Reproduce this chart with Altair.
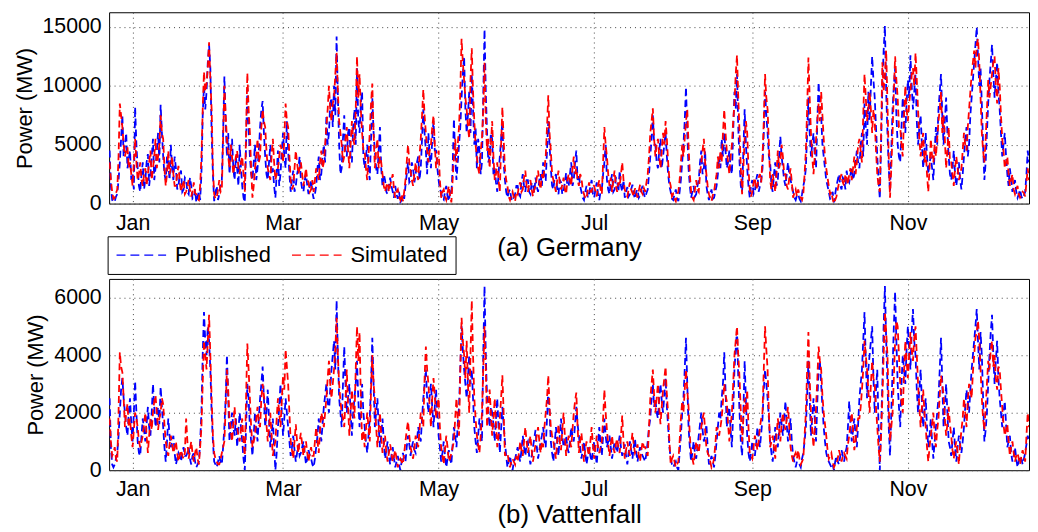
import altair as alt
import pandas as pd

START_DAY = -9
MONTH_DAYS = [0, 59, 120, 181, 243, 304]
MONTH_LABELS = ["Jan", "Mar", "May", "Jul", "Sep", "Nov"]
SERIES = ["Published", "Simulated"]
COLORS = ["#0000ff", "#ff0000"]

# Germany, GW: readings at the start of each day (day -9 .. 351)
GER_PUB = [
    4.5, 0.3, 0.2, 0.8, 3.5, 7.5, 5.0, 3.0, 4.5, 2.5,
    8.2, 3.0, 1.0, 3.5, 2.0, 4.2, 2.5, 5.5, 3.0, 6.0,
    8.4, 4.0, 2.0, 3.5, 5.0, 2.0, 3.0, 1.5, 2.8, 1.2,
    2.0, 0.8, 1.5, 0.5, 0.1, 1.0, 2.5, 10.0, 9.5, 13.5,
    6.0, 0.2, 1.5, 0.8, 2.0, 10.8, 4.0, 2.5, 5.5, 2.0,
    3.0, 5.0, 1.5, 0.1, 9.8, 4.0, 2.0, 5.0, 3.0, 6.5,
    8.7, 4.0, 2.0, 5.0, 3.0, 0.5, 4.5, 2.5, 6.0, 3.0,
    4.5, 1.0, 2.8, 1.5, 3.0, 2.0, 1.0, 2.5, 0.8, 2.0,
    0.4, 1.5, 4.0, 2.5, 5.0, 7.5, 6.0, 9.0, 10.0, 14.2,
    5.0, 3.0, 7.5, 4.0, 6.5, 3.5, 8.0, 11.5, 6.0, 9.5,
    3.0, 5.0, 2.0, 9.0, 4.5, 2.5, 6.5, 1.5, 2.0, 0.8,
    2.2, 1.0, 1.5, 0.4, 0.1, 0.8, 1.5, 3.5, 2.0, 3.0,
    2.5, 4.0, 3.0, 8.0, 4.5, 6.0, 3.0, 7.0, 4.5, 2.0,
    1.0, 0.3, 1.5, 0.2, 0.8, 7.2, 2.0, 5.0, 9.0, 12.5,
    6.0, 9.5, 11.0, 5.0, 3.0, 4.5, 3.5, 14.8, 6.0, 4.0,
    5.5, 3.0, 1.0, 4.0, 7.0, 2.0, 0.5, 1.2, 0.2, 0.8,
    1.5, 0.6, 2.5, 1.0, 2.0, 0.8, 1.6, 2.2, 1.0, 2.5,
    3.5, 2.0, 7.0, 3.0, 1.2, 2.5, 0.8, 1.8, 1.0, 2.6,
    1.5, 3.5, 2.0, 4.5, 2.5, 1.0, 0.3, 1.5, 0.8, 2.0,
    0.5, 1.8, 0.3, 1.2, 3.5, 2.0, 0.8, 2.5, 1.2, 2.0,
    2.8, 1.0, 0.5, 1.4, 0.8, 1.6, 0.4, 1.2, 0.7, 1.5,
    0.5, 1.2, 4.0, 7.5, 5.0, 3.0, 5.5, 4.0, 6.0, 2.5,
    1.0, 0.3, 1.2, 0.2, 2.0, 5.0, 9.9, 3.0, 0.5, 1.5,
    0.8, 2.0, 4.5, 3.0, 1.5, 0.3, 1.2, 0.5, 1.5, 4.0,
    5.5, 6.0, 3.0, 4.5, 2.5, 9.5, 11.0, 3.5, 1.0, 8.0,
    3.0, 0.5, 2.0, 1.0, 2.5, 1.5, 3.0, 9.5, 6.0, 3.5,
    1.0, 3.5, 2.0, 5.7, 3.0, 1.5, 3.5, 2.0, 1.0, 0.3,
    0.8, 0.2, 1.5, 3.0, 9.0, 4.0, 6.0, 3.0, 10.3, 7.5,
    4.0, 2.0, 1.0, 0.5, 0.1, 1.5, 2.5, 1.2, 2.0, 2.8,
    1.8, 3.0, 2.5, 4.5, 3.0, 6.0, 8.5, 5.0, 7.0, 12.5,
    9.0, 4.0, 0.4, 10.0, 15.1, 6.0, 1.0, 8.0, 11.5, 5.0,
    3.5, 9.0, 6.0, 10.5, 12.6, 8.0, 11.0, 5.0, 7.5, 3.0,
    6.0, 2.5, 4.0, 2.0, 6.5, 8.0, 11.0, 5.0, 9.0, 4.0,
    2.0, 4.5, 1.5, 3.5, 1.2, 4.0, 6.5, 5.0, 9.0, 12.0,
    15.0, 10.0, 8.5, 2.0, 6.0, 10.5, 13.5, 9.0, 12.0, 8.0,
    4.0, 6.0, 2.5, 3.0, 1.0, 2.0, 0.5, 1.2, 0.4, 1.0, 4.5,
]
# Germany, GW: readings at mid-day (day -8.5 .. 351.5)
GER_PUB_MID = [
    1.5, 0.1, 0.6, 2.0, 5.5, 4.0, 6.0, 3.8, 2.0, 1.2,
    5.0, 1.5, 2.5, 1.2, 3.5, 1.5, 4.0, 2.0, 4.5, 3.5,
    6.0, 2.5, 4.0, 2.0, 3.0, 4.0, 1.2, 2.5, 1.0, 2.2,
    1.0, 2.2, 0.4, 1.2, 0.6, 0.3, 7.5, 8.0, 12.0, 11.5,
    2.5, 0.9, 0.3, 1.6, 6.0, 7.0, 6.0, 4.0, 3.0, 4.0,
    1.5, 3.0, 0.5, 5.0, 6.5, 2.5, 3.5, 2.0, 4.5, 8.0,
    6.0, 2.5, 3.5, 2.5, 1.5, 2.5, 1.5, 4.5, 4.0, 7.0,
    2.5, 2.0, 1.0, 2.5, 4.0, 1.2, 2.0, 1.5, 1.5, 1.0,
    0.8, 3.0, 2.0, 4.0, 3.5, 5.0, 8.5, 6.5, 7.5, 9.0,
    2.5, 5.5, 4.5, 6.0, 4.0, 6.5, 5.0, 7.0, 8.5, 4.0,
    4.0, 3.0, 5.5, 6.0, 3.0, 4.5, 3.0, 2.5, 1.0, 1.5,
    1.5, 0.5, 0.8, 1.0, 0.3, 0.4, 2.5, 1.8, 3.5, 1.8,
    3.5, 2.0, 5.5, 6.0, 2.5, 4.0, 5.5, 4.5, 3.0, 1.2,
    0.4, 1.0, 0.6, 1.0, 3.0, 4.0, 3.5, 6.5, 11.0, 8.0,
    7.5, 6.0, 8.0, 6.5, 5.5, 2.5, 9.0, 9.5, 3.5, 6.0,
    2.5, 1.8, 2.5, 5.5, 3.5, 1.0, 1.0, 0.4, 0.6, 1.5,
    0.8, 1.8, 1.5, 2.0, 1.0, 1.8, 0.9, 1.4, 2.0, 1.5,
    2.0, 4.5, 5.0, 1.5, 2.2, 1.2, 2.0, 0.8, 1.8, 1.5,
    2.5, 1.5, 3.5, 2.0, 1.5, 0.5, 1.0, 0.5, 1.5, 0.8,
    1.2, 0.8, 1.0, 2.5, 5.0, 1.2, 1.8, 1.0, 2.2, 1.0,
    1.5, 2.0, 1.0, 0.6, 1.2, 0.8, 1.0, 0.5, 1.2, 0.8,
    0.9, 2.5, 5.5, 5.0, 3.5, 4.5, 3.0, 5.0, 4.0, 1.5,
    0.4, 0.8, 0.5, 1.0, 3.5, 7.0, 6.0, 1.5, 1.0, 0.6,
    1.5, 3.5, 2.5, 4.5, 0.8, 0.8, 0.4, 1.0, 2.5, 3.0,
    4.0, 4.5, 3.5, 3.0, 6.0, 8.0, 6.5, 1.5, 4.5, 5.0,
    1.5, 1.5, 0.8, 2.0, 1.0, 2.0, 6.0, 7.5, 4.0, 1.5,
    2.5, 1.5, 4.0, 4.0, 2.0, 2.5, 2.5, 1.5, 0.5, 0.7,
    0.4, 0.8, 2.0, 6.0, 6.0, 5.0, 4.0, 7.0, 8.0, 5.0,
    3.0, 1.5, 0.4, 1.0, 0.8, 2.0, 1.5, 2.2, 1.2, 2.0,
    2.5, 2.0, 3.5, 3.5, 5.0, 4.0, 6.5, 9.5, 10.0, 10.5,
    6.5, 2.0, 5.0, 13.0, 9.5, 3.0, 4.5, 10.0, 7.5, 4.0,
    6.5, 7.5, 8.5, 9.0, 10.0, 9.5, 7.0, 6.5, 5.0, 4.5,
    4.0, 3.5, 3.0, 4.5, 5.0, 9.5, 7.5, 7.0, 6.0, 2.5,
    3.0, 2.5, 2.5, 2.0, 2.5, 5.5, 4.0, 7.5, 10.5, 13.5,
    12.5, 11.5, 5.0, 3.5, 8.5, 12.0, 11.0, 10.5, 9.5, 6.0,
    5.0, 4.0, 1.5, 2.0, 1.5, 1.0, 0.8, 0.6, 0.7, 2.5, 3.5,
]
GER_SIM = [
    3.5, 1.0, 0.5, 1.2, 8.5, 6.5, 4.0, 4.8, 3.5, 1.5,
    5.5, 2.0, 3.5, 1.5, 3.0, 2.5, 4.5, 3.0, 5.5, 4.0,
    7.5, 5.5, 1.5, 4.5, 3.0, 2.5, 1.5, 3.2, 1.0, 2.0,
    1.0, 2.0, 0.6, 1.8, 0.8, 0.3, 4.0, 11.2, 10.2, 13.7,
    8.0, 0.8, 0.5, 2.0, 1.2, 10.0, 5.5, 3.0, 4.0, 3.2,
    4.5, 2.5, 4.0, 1.0, 11.1, 6.0, 0.5, 3.0, 5.5, 4.0,
    8.0, 6.5, 3.0, 2.0, 5.5, 2.0, 3.0, 5.0, 3.5, 8.5,
    6.5, 2.0, 1.5, 4.5, 2.5, 3.5, 1.5, 3.0, 1.8, 1.2,
    1.0, 3.0, 2.0, 4.5, 3.5, 6.5, 10.0, 7.0, 9.0, 12.8,
    7.0, 5.0, 4.0, 6.5, 3.0, 7.0, 5.0, 12.5, 11.0, 6.0,
    4.5, 2.0, 6.0, 10.2, 3.0, 5.5, 4.0, 2.5, 1.0, 1.8,
    1.5, 2.5, 0.5, 1.2, 0.3, 0.2, 2.0, 5.0, 2.8, 1.5,
    3.5, 2.0, 5.5, 9.7, 6.0, 3.5, 5.0, 7.5, 3.0, 4.5,
    0.5, 1.2, 0.3, 1.5, 0.1, 4.0, 3.5, 6.5, 14.0, 10.5,
    8.0, 5.5, 13.2, 7.0, 4.0, 2.5, 5.5, 12.0, 4.5, 3.0,
    7.0, 2.0, 3.5, 1.0, 8.2, 3.0, 1.5, 0.3, 1.0, 0.2,
    0.8, 1.8, 1.2, 2.8, 1.0, 2.0, 0.6, 1.5, 2.8, 1.2,
    2.0, 4.0, 9.2, 4.5, 2.0, 1.0, 2.8, 1.2, 2.2, 0.8,
    2.5, 1.5, 4.0, 3.0, 1.5, 2.2, 0.8, 0.4, 1.8, 1.0,
    1.5, 0.6, 2.0, 0.8, 6.5, 4.0, 1.5, 1.0, 2.8, 1.0,
    1.5, 3.5, 1.2, 0.6, 1.8, 0.9, 1.3, 0.5, 1.6, 0.8,
    1.0, 2.5, 6.0, 8.1, 4.0, 5.5, 3.0, 6.0, 7.0, 3.5,
    1.5, 0.8, 0.2, 1.0, 3.5, 4.0, 7.0, 5.0, 1.0, 0.3,
    2.0, 1.0, 3.5, 5.5, 2.5, 0.8, 0.2, 1.0, 2.5, 3.0,
    3.5, 8.0, 4.5, 2.5, 5.0, 8.5, 12.6, 6.0, 0.8, 5.5,
    6.0, 1.2, 1.0, 2.2, 1.5, 2.5, 4.0, 11.0, 8.0, 2.0,
    2.5, 1.0, 4.5, 3.5, 4.0, 2.5, 1.2, 3.0, 0.5, 1.2,
    1.2, 0.5, 0.8, 4.5, 12.4, 6.0, 2.5, 5.5, 8.5, 9.5,
    5.5, 3.0, 1.5, 1.0, 0.0, 0.6, 1.8, 2.5, 1.5, 2.2,
    2.5, 2.0, 4.0, 3.5, 5.5, 3.5, 11.0, 7.0, 9.5, 6.0,
    7.0, 2.5, 1.0, 12.0, 11.0, 8.5, 0.5, 6.0, 12.5, 9.0,
    6.5, 4.0, 10.0, 7.0, 9.5, 11.5, 12.8, 8.0, 4.0, 6.0,
    4.5, 1.0, 5.5, 3.5, 4.0, 7.0, 9.5, 7.5, 3.0, 6.5,
    3.5, 1.5, 4.0, 2.0, 3.0, 6.0, 4.5, 8.0, 11.0, 13.0,
    13.5, 12.0, 6.0, 3.5, 8.0, 9.0, 11.0, 12.5, 8.5, 10.0,
    5.5, 3.0, 4.0, 1.5, 2.5, 0.8, 1.5, 0.5, 1.0, 0.6, 3.0,
]
GER_SIM_MID = [
    2.0, 0.4, 0.9, 4.0, 7.5, 5.0, 4.5, 3.0, 2.5, 3.5,
    3.5, 2.5, 2.0, 2.5, 1.5, 3.5, 2.0, 4.0, 3.0, 5.0,
    6.0, 3.0, 2.5, 2.5, 4.0, 1.5, 2.5, 1.8, 1.6, 0.8,
    1.5, 1.2, 1.0, 0.9, 0.4, 1.5, 8.0, 9.5, 11.5, 10.5,
    3.0, 0.4, 1.2, 1.0, 5.5, 7.5, 4.0, 5.0, 2.5, 4.0,
    3.0, 3.5, 2.5, 6.0, 8.0, 3.0, 1.5, 4.0, 3.5, 6.5,
    7.0, 4.5, 2.5, 4.0, 3.5, 2.5, 4.0, 4.5, 5.5, 7.0,
    4.0, 1.2, 3.0, 3.5, 3.0, 2.5, 2.2, 2.0, 1.0, 2.0,
    2.0, 2.5, 3.5, 3.0, 5.0, 8.0, 8.0, 8.5, 11.0, 9.5,
    6.0, 3.5, 5.5, 4.5, 5.0, 5.5, 8.0, 9.0, 8.0, 4.5,
    3.0, 4.0, 8.5, 6.0, 4.5, 3.0, 3.5, 1.5, 1.5, 1.0,
    2.0, 1.2, 1.0, 0.6, 0.8, 1.0, 3.5, 3.5, 2.0, 2.5,
    2.5, 4.0, 7.5, 7.5, 4.5, 4.5, 6.5, 5.0, 4.0, 2.0,
    1.0, 0.6, 0.9, 0.7, 2.0, 5.5, 5.0, 9.5, 12.0, 9.0,
    6.5, 10.5, 9.5, 5.0, 3.0, 4.5, 8.0, 7.0, 5.5, 5.0,
    4.0, 2.5, 2.0, 5.0, 5.5, 2.0, 0.6, 0.7, 0.5, 1.0,
    1.5, 1.0, 2.2, 1.5, 1.6, 1.2, 1.2, 2.2, 1.8, 2.5,
    3.0, 6.5, 6.0, 2.5, 1.5, 2.0, 1.8, 1.6, 1.2, 2.0,
    2.0, 3.0, 2.5, 2.0, 2.5, 1.2, 0.5, 1.2, 1.0, 1.6,
    1.0, 1.5, 1.2, 3.5, 5.0, 2.5, 2.2, 2.0, 1.5, 1.8,
    2.5, 2.0, 0.8, 1.2, 1.2, 0.6, 0.9, 1.1, 1.0, 1.3,
    1.8, 4.0, 7.0, 5.5, 5.0, 4.0, 4.5, 5.0, 5.5, 2.0,
    0.6, 0.4, 0.8, 2.0, 5.0, 5.5, 8.0, 2.5, 0.5, 1.2,
    1.2, 2.5, 4.5, 3.5, 1.5, 0.4, 0.7, 1.8, 4.0, 4.5,
    6.0, 6.0, 3.5, 4.0, 7.0, 11.0, 9.0, 3.0, 3.0, 7.0,
    3.0, 0.6, 1.8, 1.2, 2.2, 1.8, 7.0, 9.0, 5.0, 1.2,
    1.8, 2.5, 3.0, 5.0, 2.5, 1.5, 2.2, 1.8, 0.9, 0.6,
    0.8, 0.3, 2.5, 8.0, 9.0, 4.0, 4.0, 7.0, 7.0, 7.5,
    4.0, 2.2, 0.8, 0.4, 0.3, 1.2, 2.2, 1.8, 2.5, 1.6,
    3.0, 3.0, 2.5, 5.0, 4.5, 7.5, 9.0, 8.0, 8.0, 8.0,
    4.5, 1.5, 6.0, 9.5, 13.0, 4.0, 3.0, 9.5, 10.5, 6.5,
    5.0, 7.5, 8.0, 8.5, 11.0, 10.0, 10.5, 5.5, 5.0, 3.5,
    2.5, 3.0, 4.0, 5.0, 5.5, 8.0, 6.0, 5.5, 4.5, 3.5,
    2.5, 3.0, 3.0, 2.5, 4.5, 5.0, 6.5, 9.5, 12.0, 11.5,
    14.0, 9.0, 4.5, 5.5, 10.5, 10.0, 12.0, 10.0, 11.5, 7.5,
    4.5, 3.5, 2.5, 2.0, 1.2, 1.2, 0.8, 0.7, 0.9, 1.8, 2.0,
]

# Vattenfall, GW: readings at the start of each day (day -9 .. 351)
VAT_PUB = [
    2.5, 0.2, 0.2, 0.6, 2.0, 3.2, 2.0, 1.2, 2.5, 1.0,
    3.1, 1.0, 0.5, 1.8, 1.0, 2.2, 1.2, 3.0, 1.5, 2.2,
    2.9, 1.5, 0.3, 1.8, 0.8, 1.2, 0.2, 0.6, 0.3, 0.8,
    0.5, 0.8, 0.2, 0.6, 0.1, 0.3, 2.0, 5.5, 4.0, 4.5,
    2.0, 0.3, 0.1, 0.5, 0.2, 1.5, 4.0, 1.0, 2.0, 1.2,
    0.8, 2.0, 1.0, 0.0, 3.0, 1.5, 0.5, 2.0, 1.0, 2.5,
    3.6, 1.5, 2.8, 0.8, 1.8, 0.0, 1.5, 3.0, 1.2, 2.5,
    1.5, 0.5, 1.2, 0.3, 0.9, 0.6, 1.0, 0.2, 0.7, 0.4,
    0.1, 0.8, 1.8, 1.0, 2.2, 3.0, 2.0, 3.5, 4.5, 5.9,
    2.5, 1.5, 4.3, 2.0, 3.0, 1.2, 2.5, 3.8, 1.5, 3.0,
    1.5, 0.6, 1.8, 4.6, 1.5, 2.5, 0.8, 1.8, 0.4, 1.0,
    0.2, 0.8, 0.1, 0.5, 0.0, 0.6, 0.3, 1.2, 0.5, 1.0,
    0.6, 1.5, 1.0, 2.5, 3.5, 2.0, 3.0, 1.5, 2.8, 1.2,
    0.3, 1.0, 0.1, 0.7, 0.2, 1.5, 0.8, 2.2, 5.0, 3.5,
    2.5, 4.0, 3.5, 1.5, 0.6, 1.8, 1.0, 6.4, 2.5, 1.5,
    2.0, 1.0, 2.5, 0.6, 2.2, 1.0, 0.1, 0.5, 0.0, 0.4,
    0.8, 0.3, 1.2, 0.5, 1.0, 0.2, 0.8, 1.4, 0.4, 1.0,
    1.5, 0.8, 2.8, 1.0, 0.3, 1.5, 0.5, 1.8, 0.8, 1.2,
    0.6, 1.5, 1.0, 2.2, 1.2, 0.4, 1.0, 0.2, 0.8, 0.3,
    1.0, 0.2, 1.5, 0.5, 1.8, 0.8, 1.2, 0.4, 1.0, 0.6,
    1.2, 0.5, 0.9, 0.2, 1.0, 0.4, 1.1, 0.3, 0.8, 0.5,
    0.3, 1.0, 1.8, 3.0, 2.5, 1.8, 3.0, 2.0, 3.2, 1.5,
    0.4, 0.1, 0.3, 0.0, 1.2, 2.5, 4.6, 1.5, 0.3, 1.0,
    0.4, 1.2, 2.0, 1.0, 1.6, 0.2, 0.5, 0.1, 1.0, 2.0,
    2.5, 4.1, 1.5, 2.2, 0.8, 3.5, 4.9, 2.0, 0.5, 3.8,
    1.2, 0.3, 1.0, 0.5, 1.5, 0.8, 1.8, 3.5, 2.5, 1.0,
    0.3, 1.5, 0.8, 2.0, 1.2, 2.4, 1.0, 1.8, 0.5, 0.1,
    0.3, 0.1, 0.6, 1.5, 3.8, 1.2, 2.5, 1.0, 3.5, 3.0,
    1.5, 0.6, 0.3, 0.1, 0.0, 0.5, 0.2, 0.7, 0.3, 0.8,
    2.4, 1.0, 1.8, 0.8, 2.5, 3.5, 5.5, 2.5, 4.0, 5.0,
    2.0, 3.5, 0.0, 3.0, 6.4, 3.0, 0.5, 3.5, 6.2, 3.0,
    1.5, 4.0, 3.0, 5.0, 3.5, 5.6, 4.0, 2.0, 3.5, 1.5,
    2.5, 0.8, 1.8, 0.4, 1.5, 2.5, 4.6, 1.5, 3.0, 1.0,
    0.5, 1.5, 0.3, 1.2, 0.6, 1.5, 2.8, 2.0, 3.5, 4.5,
    5.6, 3.5, 4.0, 1.0, 2.0, 4.0, 5.4, 3.0, 4.5, 2.5,
    1.5, 2.4, 0.8, 1.2, 0.3, 0.8, 0.1, 0.5, 0.2, 0.6, 1.2,
]
VAT_PUB_MID = [
    0.8, 0.1, 0.4, 1.2, 2.8, 2.5, 1.5, 2.0, 1.6, 2.0,
    2.0, 0.6, 1.2, 1.4, 1.6, 1.5, 2.0, 2.2, 1.8, 1.6,
    2.2, 0.8, 1.0, 1.2, 1.0, 0.6, 0.4, 0.5, 0.6, 0.5,
    0.6, 0.4, 0.5, 0.3, 0.2, 1.0, 4.0, 4.5, 5.0, 3.5,
    1.0, 0.2, 0.3, 0.3, 0.8, 2.5, 2.5, 1.5, 1.5, 1.8,
    1.4, 1.5, 0.4, 1.5, 2.5, 1.0, 1.2, 1.5, 1.8, 3.0,
    2.5, 2.0, 1.8, 1.2, 0.8, 0.6, 2.2, 2.0, 1.8, 2.0,
    1.0, 0.8, 0.7, 0.6, 0.5, 0.8, 0.6, 0.4, 0.5, 0.2,
    0.4, 1.2, 1.4, 1.6, 2.6, 2.4, 2.8, 4.0, 3.5, 4.0,
    2.0, 3.0, 3.0, 2.5, 2.0, 2.0, 3.0, 2.5, 2.2, 2.0,
    1.0, 1.2, 3.0, 3.0, 2.0, 1.5, 1.2, 1.0, 0.7, 0.5,
    0.5, 0.4, 0.3, 0.2, 0.3, 0.4, 0.8, 0.9, 0.8, 0.7,
    1.0, 1.2, 1.8, 3.0, 2.5, 2.6, 2.2, 2.2, 2.0, 0.8,
    0.6, 0.5, 0.4, 0.4, 0.9, 1.2, 1.6, 3.5, 4.2, 3.0,
    3.2, 3.0, 2.5, 1.0, 1.2, 1.4, 4.0, 4.0, 2.0, 2.2,
    1.6, 1.8, 1.5, 1.4, 1.6, 0.5, 0.3, 0.2, 0.3, 0.6,
    0.5, 0.7, 0.8, 0.9, 0.5, 0.5, 1.1, 0.8, 0.7, 1.2,
    1.0, 1.8, 2.0, 0.6, 0.9, 1.0, 1.2, 1.2, 1.0, 0.8,
    1.0, 1.2, 1.6, 1.6, 0.8, 0.7, 0.6, 0.5, 0.5, 0.7,
    0.6, 0.9, 0.9, 1.2, 1.2, 1.0, 0.8, 0.7, 0.8, 0.9,
    0.8, 0.7, 0.5, 0.6, 0.7, 0.8, 0.6, 0.6, 0.6, 0.4,
    0.6, 1.5, 2.5, 2.2, 2.0, 2.5, 2.4, 2.6, 2.2, 0.8,
    0.2, 0.2, 0.1, 0.6, 2.0, 3.5, 3.0, 0.8, 0.6, 0.6,
    0.8, 1.6, 1.4, 1.2, 0.8, 0.3, 0.3, 0.5, 1.5, 1.8,
    3.0, 2.8, 2.0, 1.4, 2.0, 4.2, 3.2, 1.0, 2.0, 2.4,
    0.6, 0.6, 0.7, 0.9, 1.1, 1.3, 2.8, 3.0, 1.8, 0.6,
    0.9, 1.0, 1.4, 1.6, 1.8, 1.6, 1.4, 1.0, 0.3, 0.3,
    0.2, 0.4, 1.0, 2.6, 2.5, 1.8, 1.8, 2.4, 3.8, 2.2,
    1.0, 0.4, 0.2, 0.2, 0.3, 0.3, 0.5, 0.5, 0.6, 1.5,
    1.6, 1.4, 1.2, 1.6, 3.0, 4.5, 3.8, 3.5, 4.5, 3.2,
    2.8, 1.5, 1.5, 5.0, 4.5, 1.5, 2.0, 5.0, 4.5, 2.2,
    3.0, 3.5, 4.2, 4.2, 4.8, 4.5, 2.8, 2.8, 2.4, 2.0,
    1.5, 1.2, 1.0, 1.0, 2.0, 3.5, 3.0, 2.2, 2.0, 0.8,
    1.0, 0.8, 0.8, 0.9, 1.0, 2.2, 2.4, 2.8, 4.0, 5.0,
    4.5, 4.8, 2.5, 1.4, 3.0, 4.8, 4.0, 3.8, 3.2, 2.0,
    2.0, 1.6, 1.0, 0.6, 0.5, 0.4, 0.3, 0.4, 0.4, 0.9, 1.0,
]
VAT_SIM = [
    1.8, 0.5, 0.8, 0.3, 4.1, 3.4, 1.5, 2.3, 1.8, 0.8,
    2.0, 1.5, 0.8, 1.2, 2.0, 0.6, 1.8, 2.0, 2.6, 1.4,
    2.0, 2.3, 1.0, 0.5, 1.2, 0.6, 1.0, 0.3, 0.7, 0.4,
    1.8, 0.4, 1.0, 0.3, 0.8, 0.2, 1.5, 4.5, 3.5, 5.4,
    2.5, 0.6, 0.3, 0.2, 0.6, 1.0, 3.5, 1.8, 1.0, 2.2,
    1.5, 1.0, 1.8, 0.5, 4.4, 2.5, 0.8, 1.2, 2.2, 1.5,
    3.0, 2.2, 1.0, 2.0, 0.5, 1.0, 2.5, 1.5, 3.3, 4.2,
    3.0, 1.0, 0.4, 1.6, 0.6, 1.3, 0.5, 1.0, 0.3, 0.8,
    0.5, 1.5, 0.6, 2.0, 1.5, 2.5, 3.8, 2.5, 3.5, 5.3,
    3.0, 2.0, 1.5, 3.5, 1.2, 2.8, 1.8, 5.0, 4.8, 1.0,
    0.8, 2.0, 1.0, 4.0, 2.5, 0.8, 2.0, 0.6, 1.2, 0.3,
    0.9, 0.3, 0.7, 0.1, 0.4, 0.2, 1.0, 1.7, 0.8, 0.4,
    1.2, 0.8, 2.0, 1.5, 4.3, 3.0, 1.5, 3.2, 1.8, 2.5,
    0.8, 0.2, 1.2, 0.3, 0.6, 1.0, 2.5, 1.2, 5.3, 4.0,
    4.5, 2.0, 5.9, 2.5, 1.2, 0.6, 2.0, 5.0, 1.5, 2.8,
    1.2, 2.5, 0.8, 1.8, 3.3, 0.5, 0.6, 0.1, 0.4, 0.2,
    0.3, 1.0, 0.5, 1.5, 0.6, 1.2, 0.3, 0.9, 1.5, 0.6,
    0.8, 2.0, 3.3, 1.5, 1.0, 0.4, 1.6, 0.7, 2.0, 0.5,
    1.2, 0.8, 2.0, 2.7, 0.6, 1.3, 0.3, 1.0, 0.5, 1.5,
    0.4, 1.2, 0.6, 1.0, 2.8, 1.4, 0.5, 1.2, 0.6, 1.1,
    0.6, 1.9, 0.4, 1.0, 0.5, 1.3, 0.6, 0.9, 0.3, 1.0,
    0.8, 0.5, 2.5, 3.5, 2.0, 3.0, 1.6, 2.8, 3.6, 2.0,
    0.2, 0.5, 0.1, 0.3, 1.8, 2.0, 3.5, 2.2, 0.6, 0.2,
    1.0, 0.6, 1.5, 2.0, 0.8, 0.5, 0.1, 0.4, 1.5, 1.2,
    1.8, 3.0, 2.4, 1.0, 2.0, 4.0, 5.0, 3.2, 1.0, 2.5,
    2.8, 0.6, 0.4, 1.2, 0.7, 1.5, 2.0, 5.0, 3.5, 0.8,
    1.2, 0.4, 1.8, 1.0, 2.0, 1.4, 2.2, 0.8, 0.3, 0.6,
    0.7, 0.2, 0.4, 2.0, 4.8, 2.0, 0.8, 2.2, 4.3, 3.5,
    2.0, 1.2, 0.4, 0.6, 0.1, 0.2, 0.7, 0.3, 0.6, 0.4,
    1.2, 2.0, 0.7, 1.5, 1.8, 2.8, 4.5, 3.5, 2.0, 3.8,
    3.0, 1.5, 0.3, 2.5, 5.5, 4.0, 1.0, 2.0, 4.5, 5.0,
    3.0, 2.0, 4.5, 3.2, 4.8, 3.8, 5.0, 3.0, 1.5, 2.8,
    1.5, 0.3, 1.2, 2.0, 0.8, 1.8, 3.3, 2.6, 1.2, 2.2,
    1.2, 0.4, 1.0, 0.2, 1.4, 2.5, 1.5, 3.0, 2.5, 4.0,
    4.8, 4.5, 2.5, 1.4, 3.0, 3.5, 4.5, 4.0, 2.8, 3.5,
    2.2, 1.2, 1.6, 0.5, 1.0, 0.3, 0.6, 0.2, 0.7, 0.3, 2.0,
]
VAT_SIM_MID = [
    1.0, 0.6, 0.4, 2.0, 3.6, 2.5, 2.0, 1.5, 1.2, 1.4,
    1.8, 1.0, 1.0, 1.6, 1.2, 1.2, 1.4, 2.4, 2.0, 1.8,
    2.5, 1.6, 0.7, 0.9, 0.9, 0.8, 0.6, 0.5, 0.5, 0.6,
    1.0, 0.7, 0.6, 0.6, 0.4, 0.8, 3.0, 4.0, 4.5, 4.0,
    1.2, 0.4, 0.2, 0.4, 0.8, 2.2, 2.8, 1.4, 1.6, 1.5,
    1.2, 1.4, 1.0, 2.5, 3.5, 1.5, 1.0, 1.8, 1.6, 2.5,
    2.6, 1.6, 1.5, 1.2, 0.8, 1.8, 2.0, 2.4, 2.8, 3.6,
    2.0, 0.7, 1.0, 1.0, 1.0, 0.9, 0.8, 0.6, 0.6, 0.5,
    1.0, 1.0, 1.4, 1.8, 2.0, 3.2, 3.0, 3.0, 4.2, 4.0,
    2.4, 1.8, 2.5, 2.2, 2.0, 2.2, 3.5, 3.8, 2.5, 1.4,
    1.4, 1.5, 2.8, 3.0, 1.5, 1.4, 1.2, 0.9, 0.6, 0.6,
    0.6, 0.5, 0.4, 0.3, 0.3, 0.6, 1.4, 1.2, 0.6, 0.8,
    1.0, 1.4, 1.8, 3.2, 3.5, 2.2, 2.5, 2.6, 2.2, 1.5,
    0.5, 0.7, 0.8, 0.4, 0.8, 1.8, 1.8, 3.5, 4.5, 3.2,
    3.0, 4.0, 4.0, 1.8, 0.9, 1.2, 3.5, 3.5, 2.2, 2.0,
    1.8, 1.6, 1.2, 2.5, 2.0, 0.6, 0.3, 0.3, 0.3, 0.5,
    0.6, 0.7, 1.0, 1.0, 0.9, 0.7, 0.6, 1.2, 1.0, 1.0,
    1.5, 2.5, 2.2, 1.2, 0.7, 1.0, 1.0, 1.4, 1.2, 0.9,
    1.0, 1.4, 2.4, 1.5, 1.0, 0.8, 0.7, 0.7, 1.0, 0.9,
    0.8, 0.8, 0.8, 1.8, 2.0, 0.9, 0.9, 0.8, 0.9, 0.8,
    1.2, 1.0, 0.7, 0.7, 0.9, 0.9, 0.7, 0.5, 0.7, 0.8,
    0.6, 1.5, 3.0, 2.6, 2.5, 2.2, 2.2, 3.2, 2.6, 1.0,
    0.4, 0.3, 0.2, 1.0, 2.4, 2.8, 2.8, 1.2, 0.4, 0.6,
    0.8, 1.0, 1.8, 1.4, 0.6, 0.3, 0.2, 0.9, 1.4, 1.5,
    2.4, 2.6, 1.6, 1.5, 3.0, 4.5, 4.0, 2.0, 1.8, 2.0,
    1.5, 0.5, 0.8, 1.0, 1.0, 1.8, 3.5, 4.2, 2.0, 1.0,
    0.8, 1.2, 1.4, 1.6, 1.6, 1.8, 1.5, 0.5, 0.5, 0.4,
    0.4, 0.3, 1.2, 3.5, 3.2, 1.4, 1.5, 3.2, 3.8, 2.6,
    1.6, 0.7, 0.5, 0.3, 0.2, 0.4, 0.5, 0.5, 0.5, 0.9,
    1.6, 1.4, 1.0, 1.8, 2.2, 3.5, 4.0, 2.8, 3.0, 3.2,
    2.2, 0.8, 1.2, 4.0, 4.8, 2.2, 1.5, 3.2, 5.2, 4.0,
    2.4, 3.4, 3.8, 4.0, 4.2, 4.6, 4.0, 2.2, 2.2, 2.0,
    0.8, 0.8, 1.6, 1.2, 1.4, 2.6, 3.0, 1.8, 1.6, 1.6,
    0.7, 0.8, 0.6, 0.9, 1.8, 2.0, 2.4, 2.8, 3.4, 4.6,
    5.2, 3.5, 1.8, 2.2, 3.8, 4.2, 3.6, 3.2, 3.6, 2.8,
    1.6, 1.4, 1.0, 0.8, 0.6, 0.5, 0.4, 0.5, 0.5, 1.2, 1.5,
]

FONT = "Liberation Sans"
X_DOMAIN = [-9.2, 351.5]


def long_df(pub, pub_mid, sim, sim_mid):
    rows = []
    for name, day_vals, mid_vals in ((SERIES[0], pub, pub_mid), (SERIES[1], sim, sim_mid)):
        for i, v in enumerate(day_vals):
            rows.append({"day": START_DAY + i, "mw": v * 1000, "series": name})
        for i, v in enumerate(mid_vals):
            rows.append({"day": START_DAY + i + 0.5, "mw": v * 1000, "series": name})
    return pd.DataFrame(rows)


label_expr = ""
for d, lab in zip(MONTH_DAYS, MONTH_LABELS):
    label_expr += f"datum.value == {d} ? '{lab}' : "
label_expr += "''"


def panel(df, ymax, yticks, title, legend):
    return (
        alt.Chart(df)
        .mark_line(strokeDash=[7, 4], strokeWidth=1.8, clip=True)
        .encode(
            x=alt.X(
                "day:Q",
                scale=alt.Scale(domain=X_DOMAIN, nice=False, zero=False),
                axis=alt.Axis(
                    values=MONTH_DAYS,
                    labelExpr=label_expr,
                    title=title,
                    titleFontSize=26,
                    titlePadding=1,
                    labelPadding=9,
                ),
            ),
            y=alt.Y(
                "mw:Q",
                scale=alt.Scale(domain=[0, ymax], nice=False),
                axis=alt.Axis(
                    values=yticks,
                    format="d",
                    title="Power (MW)",
                    titleFontSize=22,
                    titlePadding=6,
                    labelPadding=8,
                ),
            ),
            color=alt.Color(
                "series:N",
                scale=alt.Scale(domain=SERIES, range=COLORS),
                legend=legend,
            ),
            order=alt.Order("day:Q"),
        )
        .properties(width=928, height=193)
    )


legend = alt.Legend(
    orient="none",
    legendX=-1.5,
    legendY=226,
    direction="horizontal",
    title=None,
    symbolType="M -1 0 H 4",
    symbolSize=400,
    symbolDash=[9, 5],
    symbolStrokeWidth=1.2,
    labelFontSize=22,
    labelFont=FONT,
    labelColor="black",
    labelOffset=38,
    columnPadding=18,
    padding=8,
    strokeColor="black",
    fillColor="white",
    cornerRadius=0,
)

top = panel(long_df(GER_PUB, GER_PUB_MID, GER_SIM, GER_SIM_MID),
            16250, [0, 5000, 10000, 15000], "(a) Germany", legend)
bottom = panel(long_df(VAT_PUB, VAT_PUB_MID, VAT_SIM, VAT_SIM_MID),
               6650, [0, 2000, 4000, 6000], "(b) Vattenfall", None)

chart = (
    alt.vconcat(top, bottom, spacing=3)
    .resolve_scale(color="independent")
    .properties(
        padding={"left": 4, "top": 1, "right": 0, "bottom": 0},
        background="white",
    )
    .configure_view(stroke="black", strokeWidth=1)
    .configure_axis(
        labelFont=FONT,
        titleFont=FONT,
        labelFontSize=21.5,
        labelColor="black",
        titleColor="black",
        titleFontWeight="normal",
        domain=False,
        ticks=False,
        tickSize=0,
        grid=True,
        gridColor="#444444",
        gridDash=[1, 4],
        gridWidth=1,
        gridOpacity=1,
    )
)

chart.save("out.html", embed_options={"renderer": "svg", "actions": False})
